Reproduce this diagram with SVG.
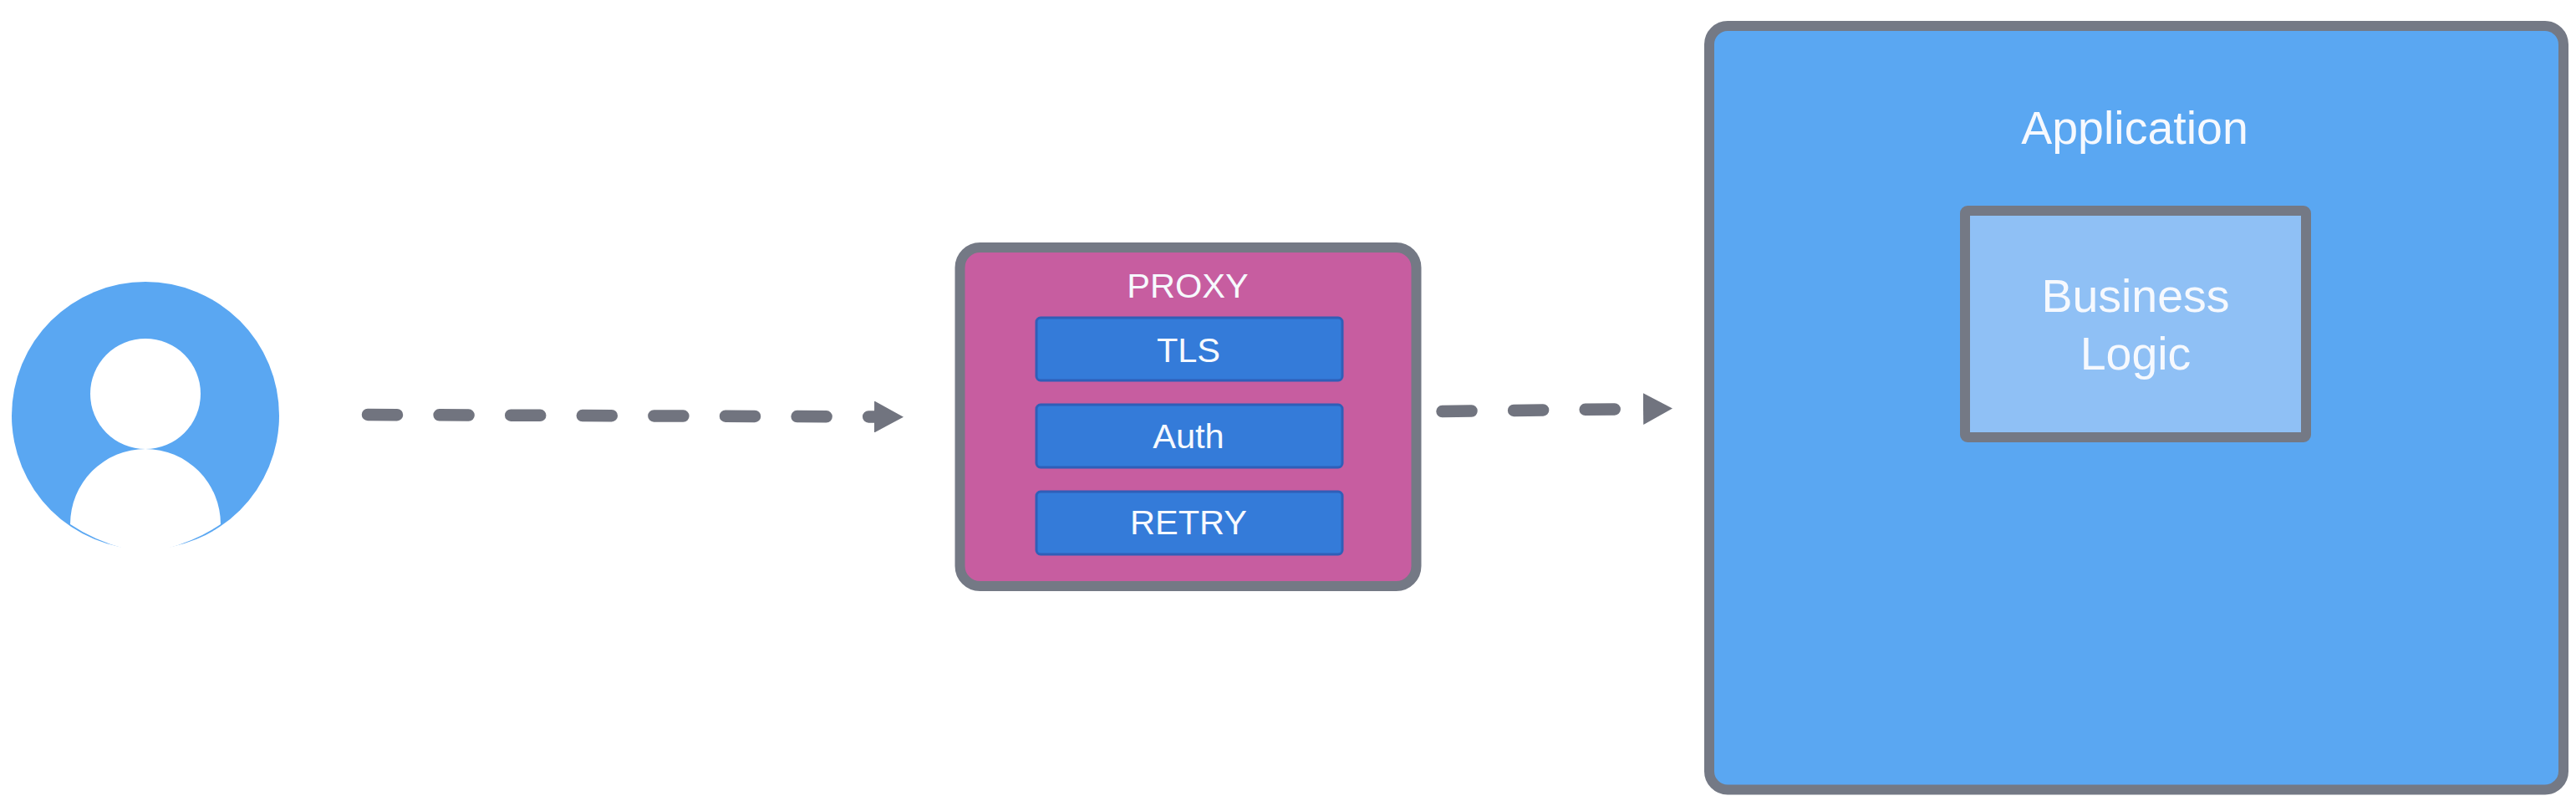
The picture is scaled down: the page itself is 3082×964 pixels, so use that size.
<svg xmlns="http://www.w3.org/2000/svg" width="3082" height="964" viewBox="0 0 3082 964">
<style>
.lbl{font-family:"Liberation Sans",Arial,sans-serif;fill:#f6f9fe;text-anchor:middle}
.big{font-size:55.5px}
.small{font-size:41.5px}
.border{stroke:#747985;stroke-width:12}
.module{fill:#347bd9;stroke:#2f5fb8;stroke-width:3}
.conn{fill:none;stroke:#71747f;stroke-width:14.5;stroke-linecap:round;stroke-dasharray:35 50.6}
</style>
<defs>
<marker id="arrow" markerUnits="userSpaceOnUse" markerWidth="36" markerHeight="38" refX="0" refY="19" orient="auto">
<polygon points="0,0 35,19 0,38" fill="#71747f"/>
</marker>
</defs>
<rect width="3082" height="964" fill="#ffffff"/>
<g id="user">
<circle cx="174" cy="497" r="160" fill="#5aa7f2"/>
<circle cx="174" cy="471" r="66" fill="#ffffff"/>
<path d="M84 627A90 90 0 0 1 264 627Q236 646 198 656.5L198 659L150 659L150 656.5Q112 646 84 627Z" fill="#ffffff"/>
</g>
<g id="proxy">
<rect x="1148.5" y="296" width="546" height="405" rx="24" fill="#c75da0" class="border"/>
<text x="1421" y="356" class="lbl small">PROXY</text>
</g>
<g id="tls">
<rect x="1240" y="380" width="366" height="75" rx="5" class="module"/>
<text x="1422" y="433" class="lbl small">TLS</text>
</g>
<g id="auth">
<rect x="1240" y="484" width="366" height="75" rx="5" class="module"/>
<text x="1422" y="536" class="lbl small">Auth</text>
</g>
<g id="retry">
<rect x="1240" y="588" width="366" height="75" rx="5" class="module"/>
<text x="1422" y="639" class="lbl small">RETRY</text>
</g>
<g id="application">
<rect x="2045" y="31" width="1022" height="913.5" rx="22" fill="#5aa7f2" class="border"/>
<text x="2554" y="172" class="lbl big">Application</text>
</g>
<g id="business-logic">
<rect x="2351" y="252" width="408" height="271" rx="3" fill="#8fc0f5" class="border"/>
<text x="2555" y="373" class="lbl big">Business</text>
<text x="2555" y="442" class="lbl big">Logic</text>
</g>
<g id="connectors">
<path class="conn" d="M440 496L1046 498.5" marker-end="url(#arrow)"/>
<path class="conn" d="M1725.5 492L1966 489" marker-end="url(#arrow)"/>
</g>
</svg>
